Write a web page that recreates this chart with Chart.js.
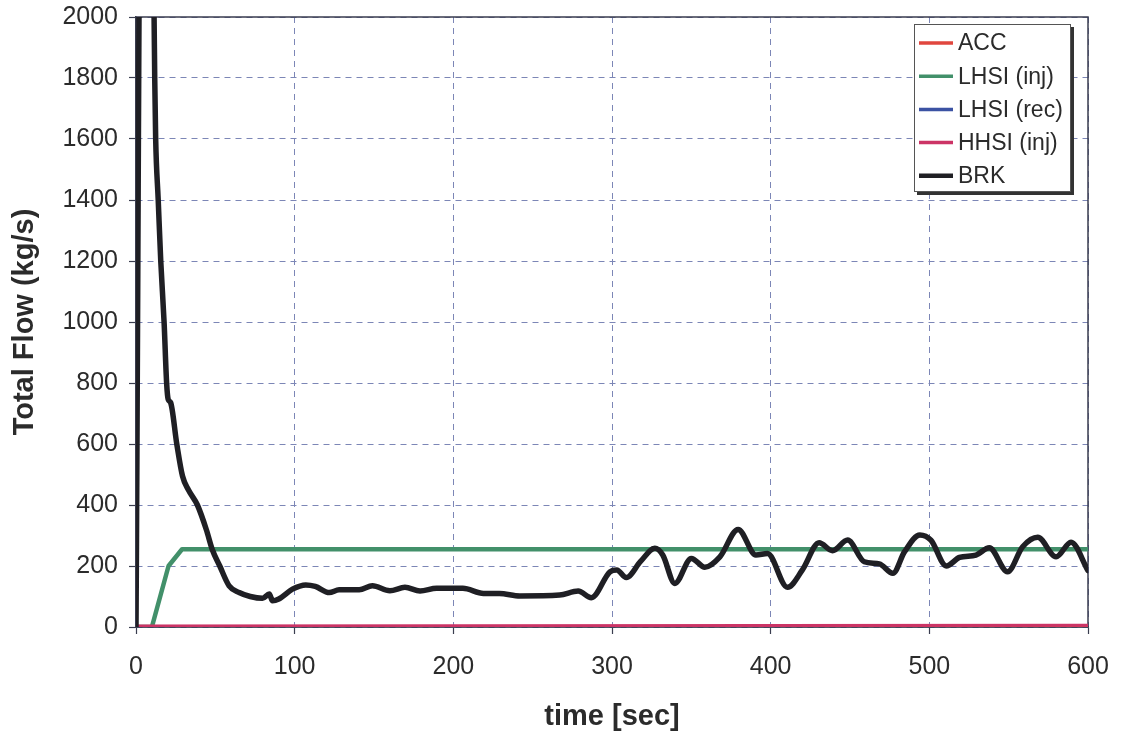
<!DOCTYPE html>
<html>
<head>
<meta charset="utf-8">
<script src="https://cdn.jsdelivr.net/npm/chart.js@4.4.1/dist/chart.umd.min.js"></script>
<style>
  html, body { margin: 0; padding: 0; background: #ffffff; }
  #wrap { width: 1121px; height: 737px; }
</style>
</head>
<body>
<div id="wrap"><canvas id="flow" width="1121" height="737"></canvas></div>
<script>
// Injection and break flows over the first 600 s
const xTicks = [0, 100, 200, 300, 400, 500, 600];
const yTicks = [0, 200, 400, 600, 800, 1000, 1200, 1400, 1600, 1800, 2000];

const accTime = [0, 600];
const accFlow = [0, 0];

const lhsiInjTime = [0, 10, 20.5, 29, 600];
const lhsiInjFlow = [0, 0, 200, 255, 255];

const lhsiRecTime = [0, 600];
const lhsiRecFlow = [0, 0];

const hhsiTime = [0, 600];
const hhsiFlow = [3, 6];

const brkTime = [0, 4, 10, 11.4, 11.8, 12.4, 14.0, 15.6, 17.7, 19.3, 20.3, 21.8, 25.7, 29.3, 33,
  38.7, 44.4, 48, 52.8, 58.7, 65, 72, 79.7, 84, 86, 90, 98.6, 107, 113, 121.8, 128, 140.7, 149,
  160, 169.5, 179, 189.5, 206, 219, 229, 242, 267, 278.7, 287, 298.7, 303, 309, 318, 327, 332,
  339.6, 350, 358.5, 368, 379.5, 390.7, 398, 410.6, 420, 430.5, 439, 448.5, 459, 468.5, 477,
  484.4, 494, 501, 510.7, 519, 529.4, 537.8, 549.3, 558.8, 568.3, 579.9, 589.3, 600];
const brkFlow = [0, 3400, 2450, 2000, 1800, 1600, 1400, 1200, 1000, 800, 746, 736, 600, 495, 450,
  400, 318, 255, 200, 135, 113, 100, 94, 108, 86, 92, 124, 138, 133, 113, 122, 122, 135,
  119, 130, 118, 127, 127, 110, 110, 102, 105, 118, 96, 181, 187, 162, 215, 258, 236,
  143, 225, 196, 230, 320, 236, 241, 130, 187, 276, 250, 285, 214, 207, 176,
  247, 302, 285, 200, 228, 236, 260, 181, 263, 294, 230, 278, 185];

const seriesNames = ['ACC', 'LHSI (inj)', 'LHSI (rec)', 'HHSI (inj)', 'BRK'];
const seriesColors = ['#e0463e', '#42906a', '#3b52a3', '#cc3466', '#1f1f24'];

function pts(xs, ys) { return xs.map((x, i) => ({ x: x, y: ys[i] })); }

const FONT = "'Liberation Sans', Arial, sans-serif";
const TEXT = '#2b2b2b';
const GRID = '#7c86b6';
const AXIS = '#3a3d4f';

// Solid frame around the plot area (axes on the left/bottom, border top/right)
const framePlugin = {
  id: 'plotFrame',
  beforeDatasetsDraw(chart) {
    const { ctx, chartArea: a } = chart;
    ctx.save();
    ctx.strokeStyle = AXIS;
    ctx.lineWidth = 1.5;
    ctx.setLineDash([]);
    ctx.strokeRect(a.left, a.top, a.right - a.left, a.bottom - a.top);
    ctx.restore();
  }
};

// Boxed legend in the upper right corner of the plot, with a drop shadow
const boxLegend = {
  id: 'boxLegend',
  afterDraw(chart) {
    const { ctx } = chart;
    const x0 = 914, y0 = 24, w = 157, h = 168;
    ctx.save();
    ctx.fillStyle = '#333333';
    ctx.fillRect(x0 + 3, y0 + 3, w, h);
    ctx.fillStyle = '#ffffff';
    ctx.fillRect(x0, y0, w, h);
    ctx.strokeStyle = '#555555';
    ctx.lineWidth = 1;
    ctx.strokeRect(x0 + 0.5, y0 + 0.5, w - 1, h - 1);
    ctx.font = '23px ' + FONT;
    ctx.textBaseline = 'middle';
    ctx.textAlign = 'left';
    chart.data.datasets.forEach((ds, i) => {
      const y = 43 + i * 33.2;
      ctx.strokeStyle = ds.borderColor;
      ctx.lineWidth = i === 4 ? 4.5 : 3.5;
      ctx.beginPath();
      ctx.moveTo(919, y);
      ctx.lineTo(953, y);
      ctx.stroke();
      ctx.fillStyle = TEXT;
      ctx.fillText(ds.label, 958, y + 1);
    });
    ctx.restore();
  }
};

const plainNumber = v => String(v);

new Chart(document.getElementById('flow'), {
  type: 'line',
  data: {
    datasets: [
      { label: seriesNames[0], data: pts(accTime, accFlow), borderColor: seriesColors[0], borderWidth: 3, order: 2 },
      { label: seriesNames[1], data: pts(lhsiInjTime, lhsiInjFlow), borderColor: seriesColors[1], borderWidth: 4.5, order: 4 },
      { label: seriesNames[2], data: pts(lhsiRecTime, lhsiRecFlow), borderColor: seriesColors[2], borderWidth: 3, order: 3 },
      { label: seriesNames[3], data: pts(hhsiTime, hhsiFlow), borderColor: seriesColors[3], borderWidth: 3, order: 1 },
      { label: seriesNames[4], data: pts(brkTime, brkFlow), borderColor: seriesColors[4], borderWidth: 5.5,
        cubicInterpolationMode: 'monotone', order: 0, clip: 0 }
    ]
  },
  options: {
    responsive: false,
    animation: false,
    devicePixelRatio: 1,
    parsing: false,
    layout: { padding: { top: 17, right: 33, left: 0, bottom: 0 } },
    elements: {
      point: { radius: 0, hoverRadius: 0 },
      line: { tension: 0, borderCapStyle: 'round', borderJoinStyle: 'round', fill: false }
    },
    plugins: {
      legend: { display: false },
      tooltip: { enabled: false }
    },
    scales: {
      x: {
        type: 'linear',
        min: 0, max: 600,
        afterFit(scale) {
          scale.height = 110;
          scale.paddingLeft = 0;
          scale.paddingRight = 0;
        },
        afterBuildTicks(scale) { scale.ticks = xTicks.map(v => ({ value: v })); },
        grid: {
          color: GRID, lineWidth: 1,
          drawTicks: true, tickLength: 7, tickColor: AXIS, tickWidth: 1.2, tickBorderDash: [0, 0]
        },
        border: { display: true, color: AXIS, width: 1.5, dash: [6, 5] },
        ticks: { color: TEXT, font: { family: FONT, size: 25 }, padding: 18, maxRotation: 0, callback: plainNumber },
        title: {
          display: true, text: 'time [sec]', color: TEXT,
          font: { family: FONT, size: 29, weight: 'bold' },
          padding: { top: 0, bottom: 3 }
        }
      },
      y: {
        type: 'linear',
        min: 0, max: 2000,
        afterFit(scale) {
          scale.width = 136;
          scale.paddingTop = 0;
          scale.paddingBottom = 0;
        },
        afterBuildTicks(scale) { scale.ticks = yTicks.map(v => ({ value: v })); },
        grid: {
          color: GRID, lineWidth: 1,
          drawTicks: true, tickLength: 7, tickColor: AXIS, tickWidth: 1.2, tickBorderDash: [0, 0]
        },
        border: { display: true, color: AXIS, width: 1.5, dash: [6, 5] },
        ticks: { color: TEXT, font: { family: FONT, size: 25 }, padding: 11, callback: plainNumber },
        title: {
          display: true, text: 'Total Flow (kg/s)', color: TEXT,
          font: { family: FONT, size: 29, weight: 'bold' },
          padding: { top: 8, bottom: 0 }
        }
      }
    }
  },
  plugins: [framePlugin, boxLegend]
});
</script>
</body>
</html>
